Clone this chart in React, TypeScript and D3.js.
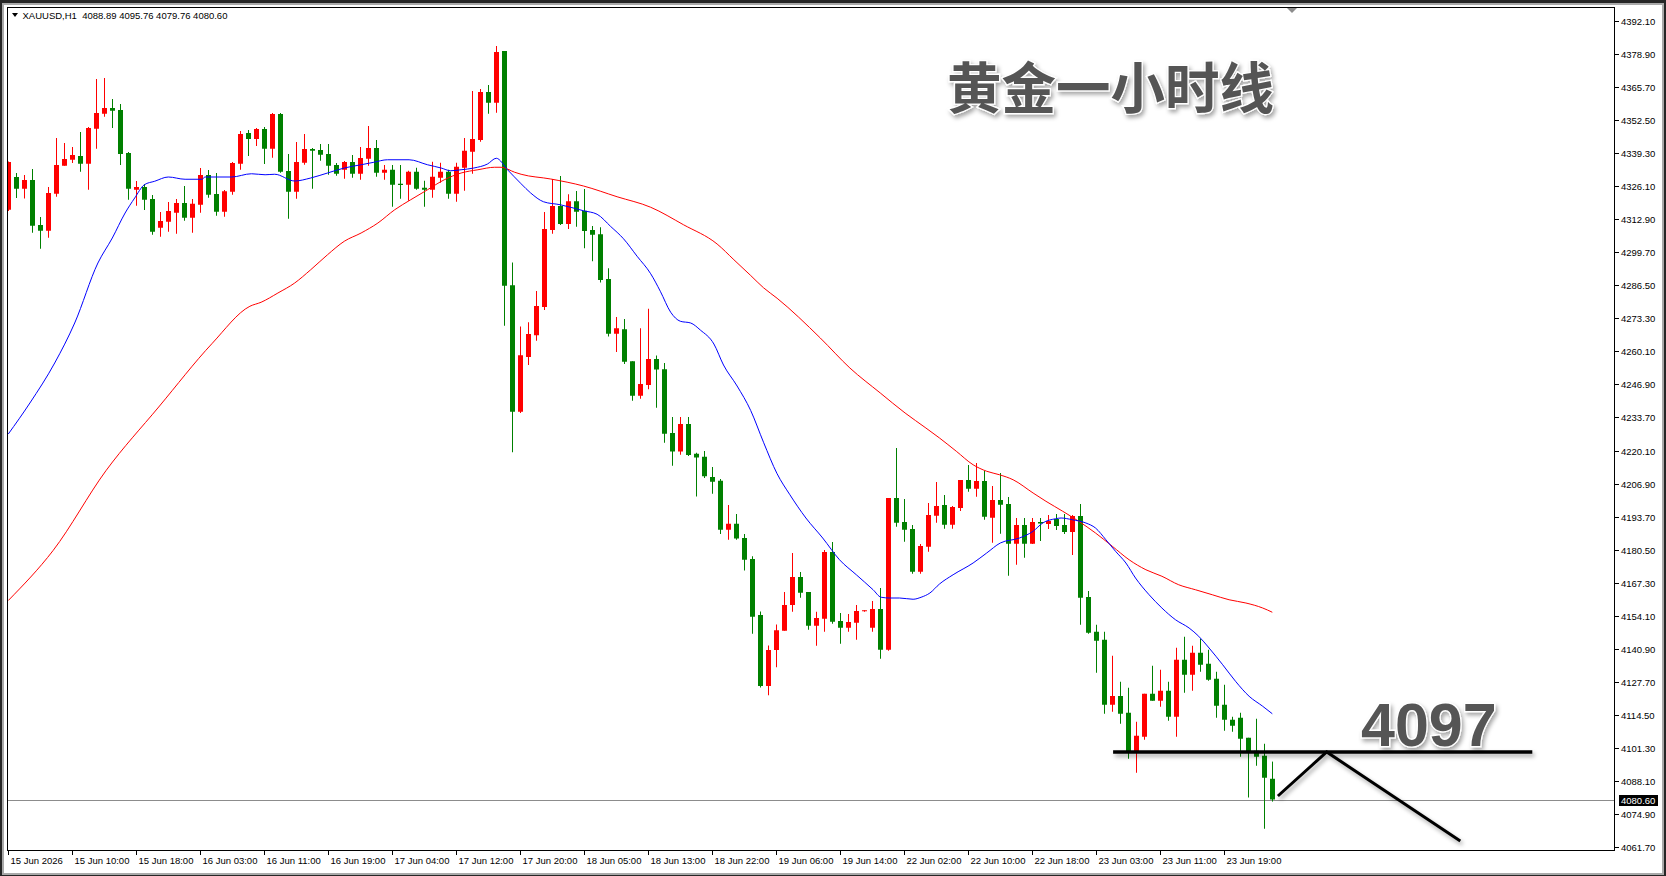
import React, { useEffect, useRef } from "react";
import * as d3 from "d3";

// XAUUSD H1 bars (oldest first)
const opens = [
  4316.5, 4329.6, 4324.9, 4328.4, 4310.4, 4308.1, 4322.9, 4334.1, 4336.5, 4338.0,
  4334.9, 4348.9, 4354.9, 4357.2, 4356.4, 4339.2, 4324.5, 4325.6, 4320.8, 4309.3,
  4311.7, 4315.3, 4319.2, 4313.3, 4318.5, 4330.4, 4322.8, 4315.7, 4323.7, 4334.9,
  4347.2, 4344.8, 4348.8, 4340.9, 4354.8, 4332.0, 4323.7, 4335.3, 4340.8, 4340.4,
  4338.8, 4334.4, 4332.5, 4335.6, 4330.9, 4336.9, 4341.2, 4331.3, 4332.5, 4326.9,
  4326.5, 4331.7, 4325.3, 4324.5, 4329.3, 4331.7, 4322.9, 4333.3, 4339.7, 4344.4,
  4363.6, 4359.3, 4380.0, 4286.3, 4235.7, 4257.6, 4266.3, 4277.6, 4308.4, 4318.0,
  4310.8, 4319.9, 4316.1, 4308.4, 4306.7, 4288.8, 4266.9, 4268.7, 4255.9, 4242.1,
  4246.4, 4256.8, 4252.7, 4227.2, 4219.8, 4230.8, 4218.9, 4217.7, 4209.6, 4208.1,
  4188.5, 4190.9, 4185.2, 4176.8, 4154.4, 4126.0, 4140.4, 4148.1, 4158.4, 4169.6,
  4163.6, 4150.1, 4152.9, 4179.6, 4152.0, 4149.3, 4151.3, 4156.0, 4149.3, 4156.8,
  4140.5, 4201.2, 4191.6, 4188.8, 4171.7, 4181.7, 4194.1, 4198.4, 4190.5, 4197.2,
  4208.4, 4204.9, 4208.0, 4193.3, 4200.4, 4198.8, 4182.9, 4190.4, 4182.9, 4191.6,
  4190.8, 4192.8, 4190.4, 4187.6, 4194.0, 4161.6, 4147.7, 4144.5, 4118.5, 4122.0,
  4115.3, 4099.7, 4105.7, 4122.9, 4120.1, 4124.1, 4113.7, 4136.5, 4130.5, 4139.3,
  4134.9, 4128.9, 4118.5, 4112.5, 4113.3, 4105.3, 4100.1, 4098.1, 4088.89,
];
const highs = [
  4335.8, 4331.2, 4330.4, 4332.8, 4313.6, 4325.6, 4345.2, 4343.2, 4341.6, 4347.6,
  4349.6, 4368.8, 4369.2, 4360.8, 4358.8, 4339.6, 4328.0, 4326.8, 4322.4, 4315.6,
  4319.6, 4320.8, 4326.0, 4320.8, 4333.2, 4332.4, 4331.2, 4324.4, 4335.6, 4348.0,
  4348.4, 4349.2, 4349.6, 4355.2, 4355.2, 4338.8, 4343.6, 4346.8, 4341.2, 4342.8,
  4342.8, 4335.2, 4336.0, 4338.4, 4341.6, 4350.0, 4344.4, 4334.4, 4334.4, 4334.4,
  4332.1, 4333.3, 4328.1, 4335.7, 4335.3, 4332.5, 4335.3, 4345.2, 4364.0, 4364.8,
  4366.4, 4382.0, 4380.0, 4295.4, 4269.8, 4271.5, 4284.0, 4315.6, 4328.8, 4330.0,
  4322.7, 4324.0, 4324.8, 4310.0, 4309.5, 4293.1, 4273.6, 4272.8, 4255.9, 4269.1,
  4276.9, 4258.2, 4255.2, 4233.6, 4233.6, 4233.6, 4219.3, 4220.0, 4213.6, 4208.8,
  4198.4, 4194.8, 4186.8, 4177.9, 4155.8, 4142.2, 4150.6, 4163.6, 4179.2, 4171.6,
  4163.6, 4155.7, 4180.4, 4183.6, 4155.2, 4154.8, 4158.4, 4156.3, 4160.0, 4165.2,
  4201.2, 4221.2, 4200.8, 4190.4, 4182.8, 4199.2, 4207.6, 4202.4, 4198.0, 4208.4,
  4214.4, 4215.2, 4212.0, 4206.0, 4211.2, 4201.6, 4193.2, 4193.2, 4193.2, 4193.2,
  4194.4, 4194.8, 4194.8, 4194.4, 4198.8, 4164.0, 4150.5, 4147.7, 4138.1, 4127.7,
  4125.3, 4111.7, 4122.9, 4134.1, 4132.5, 4127.7, 4141.3, 4145.7, 4142.1, 4144.9,
  4140.5, 4131.7, 4126.5, 4113.7, 4115.3, 4105.3, 4112.9, 4102.9, 4095.76,
];
const lows = [
  4316.0, 4321.2, 4321.0, 4307.3, 4300.9, 4305.3, 4321.7, 4334.1, 4335.2, 4331.7,
  4324.5, 4340.9, 4353.7, 4349.2, 4334.4, 4320.5, 4318.1, 4316.4, 4306.5, 4305.7,
  4307.7, 4306.9, 4312.1, 4307.3, 4315.3, 4321.3, 4314.1, 4313.7, 4322.5, 4332.5,
  4338.0, 4342.0, 4334.8, 4337.3, 4331.3, 4312.9, 4320.9, 4334.5, 4324.9, 4336.1,
  4330.5, 4330.1, 4328.9, 4329.3, 4328.5, 4334.1, 4329.7, 4328.5, 4317.7, 4320.9,
  4320.1, 4324.5, 4317.7, 4321.3, 4327.3, 4320.9, 4319.7, 4324.1, 4330.9, 4343.7,
  4354.9, 4355.3, 4270.1, 4219.5, 4235.2, 4254.4, 4264.1, 4276.4, 4306.9, 4310.4,
  4308.8, 4309.7, 4301.1, 4295.9, 4287.4, 4265.8, 4259.6, 4254.8, 4240.1, 4240.9,
  4244.7, 4237.3, 4223.3, 4214.1, 4218.5, 4218.0, 4201.8, 4209.2, 4202.9, 4186.8,
  4184.5, 4184.5, 4172.2, 4146.9, 4125.4, 4122.3, 4133.5, 4148.1, 4155.7, 4161.3,
  4148.5, 4142.1, 4147.7, 4150.9, 4142.9, 4147.7, 4144.5, 4155.7, 4147.7, 4136.9,
  4140.1, 4189.7, 4183.7, 4170.9, 4170.9, 4179.7, 4191.3, 4188.9, 4188.9, 4196.0,
  4203.7, 4201.7, 4192.5, 4183.3, 4186.9, 4170.1, 4174.5, 4177.3, 4182.8, 4184.0,
  4188.8, 4188.4, 4186.8, 4178.4, 4150.5, 4146.9, 4131.3, 4114.9, 4115.7, 4110.9,
  4096.9, 4091.3, 4104.5, 4120.1, 4117.7, 4112.1, 4105.7, 4123.3, 4124.1, 4131.7,
  4128.1, 4113.3, 4108.1, 4107.7, 4097.7, 4081.4, 4094.1, 4068.9, 4079.76,
];
const closes = [
  4335.6, 4324.9, 4328.4, 4310.1, 4308.1, 4323.2, 4334.4, 4336.8, 4338.4, 4334.9,
  4349.2, 4355.2, 4357.2, 4356.1, 4338.8, 4324.9, 4325.6, 4320.5, 4307.7, 4312.0,
  4316.0, 4319.2, 4313.3, 4318.9, 4330.4, 4322.5, 4315.7, 4323.9, 4335.2, 4346.8,
  4344.8, 4348.8, 4340.9, 4354.8, 4331.7, 4323.7, 4335.6, 4340.8, 4340.1, 4338.5,
  4334.1, 4330.9, 4335.6, 4330.9, 4337.2, 4341.2, 4331.3, 4332.5, 4326.5, 4326.4,
  4331.7, 4324.9, 4324.5, 4329.7, 4331.7, 4322.9, 4333.7, 4340.1, 4344.8, 4363.6,
  4359.3, 4379.6, 4286.1, 4235.7, 4258.3, 4266.8, 4278.0, 4308.8, 4318.0, 4310.8,
  4319.9, 4315.7, 4308.0, 4306.5, 4288.4, 4266.9, 4269.1, 4255.7, 4242.1, 4246.8,
  4256.8, 4252.6, 4226.9, 4219.8, 4230.8, 4218.4, 4217.4, 4209.9, 4207.7, 4188.5,
  4190.9, 4185.0, 4176.5, 4153.7, 4126.0, 4140.4, 4148.3, 4158.4, 4169.6, 4163.3,
  4150.1, 4153.2, 4179.6, 4151.7, 4149.3, 4151.6, 4156.0, 4156.3, 4156.8, 4140.5,
  4201.2, 4191.3, 4188.5, 4171.7, 4182.0, 4194.4, 4198.0, 4190.5, 4197.6, 4208.4,
  4204.9, 4208.0, 4193.7, 4200.4, 4198.5, 4182.9, 4190.4, 4182.9, 4191.6, 4191.0,
  4192.0, 4190.0, 4187.6, 4194.0, 4161.3, 4147.3, 4144.1, 4118.5, 4122.0, 4114.9,
  4099.7, 4106.1, 4122.9, 4120.1, 4124.1, 4113.7, 4136.5, 4130.5, 4139.3, 4134.5,
  4128.5, 4118.1, 4112.5, 4110.1, 4104.9, 4099.7, 4097.7, 4089.3, 4080.6,
];

// fast MA (blue) and slow MA (red) as [bar, price]
const maFast = [
  [0, 4226.8], [2.7, 4239.2], [5.8, 4255.2], [8.3, 4271.2], [11.2, 4295.2], [13, 4305.2],
  [14.6, 4315.2], [15.8, 4321.2], [17, 4326.5], [18.3, 4327.9], [20, 4329.6], [22.1, 4328.7],
  [24.2, 4328.7], [24.6, 4329.6], [27.9, 4329.6], [30.4, 4330.9], [32.1, 4330.5], [33.3, 4330.7],
  [35.8, 4328.0], [37.8, 4329.2], [39.9, 4331.2], [42, 4333.2], [44.1, 4334.5], [45.7, 4335.5],
  [47.4, 4336.5], [50.1, 4336.5], [52.4, 4334.5], [54.1, 4333.2], [55.3, 4332.1], [56.6, 4332.5],
  [58.2, 4333.2], [59.9, 4334.8], [61, 4337.1], [62.4, 4332.5], [64.1, 4326.9], [65.3, 4323.2],
  [66.9, 4319.7], [69, 4318.5], [71.9, 4316.1], [73.6, 4314.7], [75.3, 4309.8], [76.9, 4304.9],
  [78.6, 4297.9], [80.3, 4290.9], [81.5, 4283.9], [82.8, 4275.5], [84, 4271.9], [85.3, 4271.2],
  [86.5, 4268.4], [88.2, 4262.8], [89.4, 4254.4], [91.1, 4246.0], [92.8, 4236.2], [94.4, 4223.5],
  [96.1, 4210.9], [97.7, 4202.5], [99.7, 4193.2], [101.8, 4185.2], [103.9, 4176.5], [106, 4170.5],
  [108.1, 4164.5], [109.1, 4161.5], [110.2, 4161.2], [111.4, 4161.2], [113.1, 4160.7], [114.1, 4161.5],
  [115.2, 4163.2], [116.4, 4166.8], [118.1, 4170.5], [120.6, 4175.2], [122.3, 4179.2], [124, 4183.2],
  [126.4, 4185.2], [128.1, 4187.9], [129.3, 4191.2], [130.9, 4192.9], [131.6, 4193.2], [133, 4192.5],
  [134.7, 4191.2], [135.9, 4189.2], [137.2, 4184.5], [138.4, 4179.9], [139.7, 4175.2], [140.9, 4169.2],
  [142.6, 4162.5], [144.2, 4157.2], [145.9, 4152.5], [147.6, 4149.2], [148.8, 4145.9], [150.1, 4141.2],
  [151.8, 4134.5], [153.4, 4127.9], [155.1, 4121.9], [156.8, 4117.9], [158, 4114.9],
];
const maSlow = [
  [0, 4160.2], [5.6, 4180.2], [12.2, 4212.1], [18.8, 4237.6], [25.5, 4263.1], [30.2, 4277.9],
  [31.6, 4279.5], [33.7, 4283.2], [35.8, 4287.2], [37.8, 4292.5], [39.9, 4298.5], [42, 4303.9],
  [44.1, 4307.2], [46.2, 4311.2], [48.3, 4316.5], [50.3, 4320.5], [52.4, 4324.5], [54.5, 4328.5],
  [56.6, 4331.2], [58.7, 4332.5], [60.8, 4333.5], [61.6, 4333.5], [63.3, 4331.5], [64.1, 4330.7],
  [67.8, 4328.8], [71.9, 4326.0], [76.1, 4321.7], [80.3, 4317.5], [84.4, 4310.5], [88.6, 4302.8],
  [90.7, 4296.5], [92.8, 4290.2], [94.4, 4285.3], [96.1, 4281.1], [101.5, 4265.2], [105.2, 4253.2],
  [109, 4243.2], [112.1, 4235.2], [114.7, 4229.2], [116.4, 4225.2], [118.5, 4219.9], [120.6, 4214.5],
  [122.3, 4211.9], [123.9, 4210.5], [125.6, 4208.5], [128.1, 4203.2], [129.7, 4199.9], [131.8, 4195.9],
  [133.8, 4191.9], [135.9, 4187.2], [138, 4181.9], [140.1, 4176.5], [142.2, 4172.5], [144.2, 4169.9],
  [146.3, 4166.5], [148.4, 4164.5], [150.5, 4162.5], [152.6, 4160.5], [154.7, 4159.2], [156.8, 4157.2],
  [158, 4155.5],
];

const timeLabels = [
  "15 Jun 2026", "15 Jun 10:00", "15 Jun 18:00", "16 Jun 03:00", "16 Jun 11:00",
  "16 Jun 19:00", "17 Jun 04:00", "17 Jun 12:00", "17 Jun 20:00", "18 Jun 05:00",
  "18 Jun 13:00", "18 Jun 22:00", "19 Jun 06:00", "19 Jun 14:00", "22 Jun 02:00",
  "22 Jun 10:00", "22 Jun 18:00", "23 Jun 03:00", "23 Jun 11:00", "23 Jun 19:00",
];
const priceTicks = [
  4392.1, 4378.9, 4365.7, 4352.5, 4339.3, 4326.1, 4312.9, 4299.7, 4286.5, 4273.3,
  4260.1, 4246.9, 4233.7, 4220.1, 4206.9, 4193.7, 4180.5, 4167.3, 4154.1, 4140.9,
  4127.7, 4114.5, 4101.3, 4088.1, 4074.9, 4061.7,
];

const symbolTitle = "XAUUSD,H1";
const lastPrice = 4080.6;
const title = "黄金一小时线";
const levelText = "4097";
const levelPrice = 4099.6;
const levelBars = [138.1, 190.5];
const pathPoints = [[158.7, 4082.0], [164.8, 4099.6], [181.5, 4064.0]];

const W = 1666;
const H = 876;
const plot = { left: 7, top: 7, right: 1615, bottom: 851 };
const barsPerLabel = 8;

const App = () => {
  const ref = useRef(null);

  useEffect(() => {
    draw();
  });

  let draw = () => {
    let svg = d3.select(ref.current);
    svg.selectAll("*").remove();

    let x = d3.scaleLinear().domain([0, 200]).range([8.3, 1608.3]);
    // price scale is a little taller than the plot box (MT4 keeps a margin)
    let y = d3.scaleLinear().domain([4060.8, 4398.4]).range([plot.bottom - 2, plot.top - 2]);
    const font = "'Liberation Sans', Arial, sans-serif";

    let defs = svg.append("defs");
    defs
      .append("clipPath")
      .attr("id", "plotClip")
      .append("rect")
      .attr("x", plot.left + 0.5)
      .attr("y", plot.top + 0.5)
      .attr("width", plot.right - plot.left - 1)
      .attr("height", plot.bottom - plot.top - 1);
    defs
      .append("filter")
      .attr("id", "shadow")
      .attr("x", "-10%")
      .attr("y", "-30%")
      .attr("width", "130%")
      .attr("height", "180%")
      .append("feDropShadow")
      .attr("dx", 2)
      .attr("dy", 3)
      .attr("stdDeviation", 2)
      .attr("flood-color", "#000")
      .attr("flood-opacity", 0.35);

    // window frame
    svg.append("rect").attr("width", W).attr("height", H).attr("fill", "#262626");
    svg.append("rect").attr("x", 2).attr("y", 3).attr("width", W - 4).attr("height", H - 4).attr("fill", "#a9a9a9");
    svg.append("rect").attr("x", 4).attr("y", 5).attr("width", W - 8).attr("height", H - 8).attr("fill", "#fff");

    // current price line
    svg
      .append("line")
      .attr("x1", plot.left)
      .attr("x2", plot.right)
      .attr("y1", Math.round(y(lastPrice)) + 0.5)
      .attr("y2", Math.round(y(lastPrice)) + 0.5)
      .attr("stroke", "#8c8c8c")
      .attr("stroke-width", 1);

    let g = svg.append("g").attr("clip-path", "url(#plotClip)");

    let bars = d3.range(opens.length).map((i) => ({
      i,
      o: opens[i],
      h: highs[i],
      l: lows[i],
      c: closes[i],
    }));
    // red = up, green = down
    let col = (d) => (d.c >= d.o ? "#ff0000" : "#008000");

    g.selectAll("line.wick")
      .data(bars)
      .enter()
      .append("line")
      .attr("x1", (d) => Math.round(x(d.i)) + 0.5)
      .attr("x2", (d) => Math.round(x(d.i)) + 0.5)
      .attr("y1", (d) => y(d.h))
      .attr("y2", (d) => y(d.l))
      .attr("stroke", col)
      .attr("stroke-width", 1);

    g.selectAll("rect.body")
      .data(bars)
      .enter()
      .append("rect")
      .attr("x", (d) => Math.round(x(d.i)) - 2)
      .attr("width", 5)
      .attr("y", (d) => y(Math.max(d.o, d.c)))
      .attr("height", (d) => Math.max(1, Math.abs(y(d.o) - y(d.c))))
      .attr("fill", col);

    let line = d3
      .line()
      .x((d) => x(d[0]))
      .y((d) => y(d[1]))
      .curve(d3.curveMonotoneX);

    g.append("path").attr("d", line(maSlow)).attr("fill", "none").attr("stroke", "#ff0000").attr("stroke-width", 1);
    g.append("path").attr("d", line(maFast)).attr("fill", "none").attr("stroke", "#0000ff").attr("stroke-width", 1);

    // plot border
    svg
      .append("rect")
      .attr("x", plot.left + 0.5)
      .attr("y", plot.top + 0.5)
      .attr("width", plot.right - plot.left - 1)
      .attr("height", plot.bottom - plot.top - 1)
      .attr("fill", "none")
      .attr("stroke", "#000")
      .attr("stroke-width", 1);

    // chart shift marker
    svg
      .append("path")
      .attr("d", "M1287,8 L1297,8 L1292,13 Z")
      .attr("fill", "#8c8c8c");

    // header
    svg.append("path").attr("d", "M12,13 L18,13 L15,17 Z").attr("fill", "#000");
    svg
      .append("text")
      .attr("x", 22.5)
      .attr("y", 19)
      .attr("font-family", font)
      .attr("font-size", 9.5)
      .attr("fill", "#000")
      .attr("xml:space", "preserve")
      .text(
        `${symbolTitle}  ${opens[opens.length - 1].toFixed(2)} ${highs[highs.length - 1].toFixed(2)} ${lows[
          lows.length - 1
        ].toFixed(2)} ${closes[closes.length - 1].toFixed(2)}`
      );

    // price axis
    let pa = svg.append("g");
    priceTicks.forEach((p) => {
      let yy = Math.round(y(p)) + 0.5;
      pa.append("line").attr("x1", plot.right).attr("x2", plot.right + 4).attr("y1", yy).attr("y2", yy).attr("stroke", "#000");
      pa.append("text")
        .attr("x", plot.right + 6)
        .attr("y", yy + 3.5)
        .attr("font-family", font)
        .attr("font-size", 9.5)
        .attr("fill", "#000")
        .text(p.toFixed(2));
    });
    let ly = Math.round(y(lastPrice));
    pa.append("rect").attr("x", plot.right + 4).attr("y", ly - 5).attr("width", 39).attr("height", 11).attr("fill", "#000");
    pa.append("text")
      .attr("x", plot.right + 6)
      .attr("y", ly + 4)
      .attr("font-family", font)
      .attr("font-size", 9.5)
      .attr("fill", "#fff")
      .text(lastPrice.toFixed(2));

    // time axis
    let ta = svg.append("g");
    timeLabels.forEach((t, k) => {
      let xx = Math.round(x(k * barsPerLabel)) + 0.5;
      ta.append("line").attr("x1", xx).attr("x2", xx).attr("y1", plot.bottom).attr("y2", plot.bottom + 4).attr("stroke", "#000");
      ta.append("text")
        .attr("x", xx + 2)
        .attr("y", plot.bottom + 13)
        .attr("font-family", font)
        .attr("font-size", 9.5)
        .attr("fill", "#000")
        .text(t);
    });

    // drawn annotations
    let ann = svg.append("g").attr("filter", "url(#shadow)");
    ann
      .append("line")
      .attr("x1", x(levelBars[0]))
      .attr("x2", x(levelBars[1]))
      .attr("y1", y(levelPrice))
      .attr("y2", y(levelPrice))
      .attr("stroke", "#000")
      .attr("stroke-width", 3.5);
    ann
      .append("path")
      .attr("d", d3.line().x((d) => x(d[0])).y((d) => y(d[1]))(pathPoints))
      .attr("fill", "none")
      .attr("stroke", "#000")
      .attr("stroke-width", 3);

    svg
      .append("text")
      .attr("x", 1361)
      .attr("y", y(levelPrice) - 6)
      .attr("font-family", font)
      .attr("font-weight", "bold")
      .attr("font-size", 61)
      .attr("fill", "#555")
      .attr("stroke", "#fff")
      .attr("stroke-width", 2.5)
      .attr("paint-order", "stroke")
      .attr("filter", "url(#shadow)")
      .text(levelText);

    svg
      .append("text")
      .attr("x", 947)
      .attr("y", 108)
      .attr("font-family", "'Noto Sans CJK SC', sans-serif")
      .attr("font-weight", "bold")
      .attr("font-size", 54.5)
      .attr("fill", "#555")
      .attr("stroke", "#fff")
      .attr("stroke-width", 2.5)
      .attr("paint-order", "stroke")
      .attr("filter", "url(#shadow)")
      .text(title);
  };

  return (
    <div style={{ position: "absolute", left: 0, top: 0 }}>
      <svg ref={ref} width={W} height={H} style={{ display: "block" }}></svg>
    </div>
  );
};

export default App;
